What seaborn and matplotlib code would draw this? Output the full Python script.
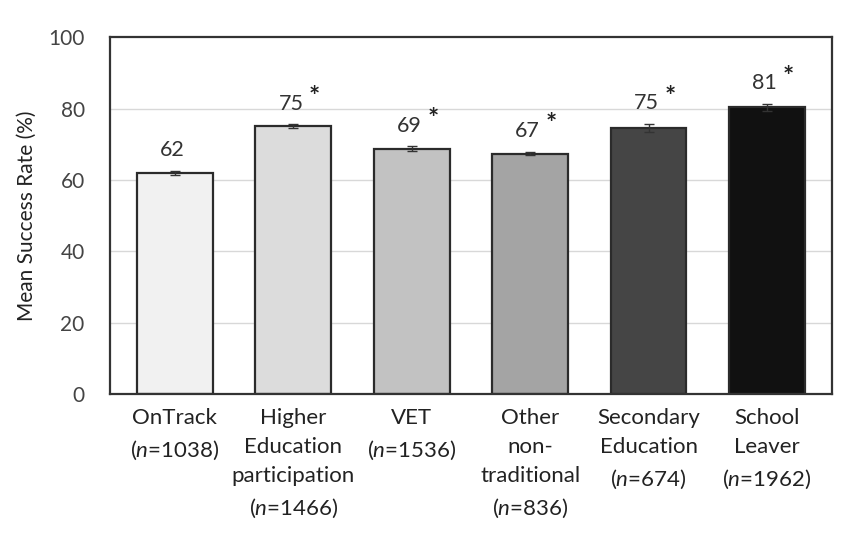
import pandas as pd
import seaborn as sns
import matplotlib.pyplot as plt
import numpy as np

# Chart data
categories = ['OnTrack', 'Higher Education participation', 'VET',
              'Other non-traditional', 'Secondary Education', 'School Leaver']
tick_labels = ['OnTrack\n($\\it{n}$=1038)',
               'Higher\nEducation\nparticipation\n($\\it{n}$=1466)',
               'VET\n($\\it{n}$=1536)',
               'Other\nnon-\ntraditional\n($\\it{n}$=836)',
               'Secondary\nEducation\n($\\it{n}$=674)',
               'School\nLeaver\n($\\it{n}$=1962)']
mean_rate = [62.0, 75.1, 68.7, 67.4, 74.5, 80.3]
std_err = [0.5, 0.5, 0.7, 0.5, 1.2, 1.0]
value_labels = ['62', '75', '69', '67', '75', '81']
significant = [False, True, True, True, True, True]
bar_colors = ['#f1f1f1', '#dcdcdc', '#c2c2c2', '#a4a4a4', '#454545', '#111111']


def create_success_rate_plot(output_path='out.png'):
    sns.set_theme(style="white")
    plt.rcParams['font.family'] = ['Lato', 'DejaVu Sans']
    plt.rcParams['mathtext.fontset'] = 'custom'
    plt.rcParams['mathtext.it'] = 'Lato:italic'
    plt.rcParams['mathtext.rm'] = 'Lato'

    df = pd.DataFrame({'category': categories, 'rate': mean_rate})

    fig = plt.figure(figsize=(8.57, 5.39), dpi=100)
    ax = fig.add_axes([0.128, 0.269, 0.843, 0.662])

    # light gridlines behind bars
    for y in [20, 40, 60, 80]:
        ax.axhline(y, color='#d8d8d8', linewidth=1, zorder=0)

    sns.barplot(data=df, x='category', y='rate', hue='category',
                palette=bar_colors, order=categories, width=0.64,
                edgecolor='#2b2b2b', linewidth=1.6, legend=False,
                errorbar=None, ax=ax, zorder=2)

    x = np.arange(len(categories))
    ax.errorbar(x, mean_rate, yerr=std_err, fmt='none', ecolor='#333333',
                elinewidth=1.0, capsize=3.5, capthick=1.0, zorder=3)

    # value labels with significance stars
    for i, (v, e, lab, sig) in enumerate(zip(mean_rate, std_err, value_labels, significant)):
        ax.text(i - 0.02, v + e + 3.0, lab, ha='center', va='bottom',
                fontsize=15.5, color='#333333')
        if sig:
            ax.text(i + 0.18, v + e + 4.3, '*', ha='center', va='bottom',
                    fontsize=19, fontweight='bold', color='#222222')

    ax.set_ylim(0, 100)
    ax.set_xlim(-0.55, 5.55)
    ax.set_yticks([0, 20, 40, 60, 80, 100])
    ax.tick_params(axis='y', labelsize=15, labelcolor='#444444', pad=18, length=0)
    ax.set_xticks(x)
    ax.set_xticklabels(tick_labels, fontsize=16, color='#222222',
                       linespacing=1.58, va='top')
    ax.tick_params(axis='x', length=0, pad=10)
    ax.set_xlabel('')
    ax.set_ylabel('Mean Success Rate (%)', fontsize=15, color='#222222', labelpad=8)

    for spine in ax.spines.values():
        spine.set_color('#333333')
        spine.set_linewidth(1.6)
        spine.set_visible(True)

    plt.savefig(output_path, dpi=100)
    plt.close()


if __name__ == "__main__":
    create_success_rate_plot()
